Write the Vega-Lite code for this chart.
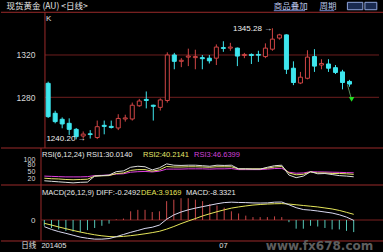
{
"$schema": "https://vega.github.io/schema/vega-lite/v6.json",
"background": "#000000",
"padding": 0,
"spacing": 0,
"bounds": "flush",
"config": {"view": {"stroke": null}, "font": "Liberation Sans", "axis": {"labelFont": "Liberation Sans"}},
"datasets": {"k": [
{"i":1,"o":1293.2,"h":1294.8,"l":1260.5,"c":1261.7,"r1":13.4,"r2":24.2,"r3":32.9,"diff":-4.6,"dea":-2.3,"macd":-4},
{"i":2,"o":1264.9,"h":1267.3,"l":1255.4,"c":1257,"r1":11.2,"r2":22,"r3":31.8,"diff":-6.5,"dea":-3.5,"macd":-5.5},
{"i":3,"o":1259.2,"h":1261,"l":1250.7,"c":1254.8,"r1":9,"r2":20.9,"r3":30.7,"diff":-8,"dea":-4.8,"macd":-6.5},
{"i":4,"o":1255.4,"h":1260.1,"l":1244.4,"c":1249.7,"r1":6.9,"r2":18.8,"r3":29.6,"diff":-9.2,"dea":-6,"macd":-7.5},
{"i":5,"o":1249.7,"h":1251,"l":1240.2,"c":1242.8,"r1":4.7,"r2":17.7,"r3":29.6,"diff":-10.5,"dea":-7.2,"macd":-8},
{"i":6,"o":1243.4,"h":1247.7,"l":1241,"c":1245.2,"r1":6.9,"r2":18.8,"r3":29.6,"diff":-11.8,"dea":-8.3,"macd":-8.5},
{"i":7,"o":1245.5,"h":1249,"l":1241,"c":1244.8,"r1":8,"r2":19.9,"r3":30.7,"diff":-12.6,"dea":-9.3,"macd":-7},
{"i":8,"o":1242,"h":1258,"l":1240.5,"c":1252.2,"r1":32.9,"r2":32.9,"r3":35,"diff":-13.2,"dea":-10.2,"macd":-5.5},
{"i":9,"o":1253.5,"h":1258,"l":1245,"c":1252.5,"r1":35,"r2":34,"r3":36.1,"diff":-13.2,"dea":-10.9,"macd":-4},
{"i":10,"o":1252.5,"h":1258,"l":1250.5,"c":1251.5,"r1":37.2,"r2":35,"r3":37.2,"diff":-12.8,"dea":-11.4,"macd":-2.5},
{"i":11,"o":1251,"h":1264,"l":1249,"c":1260,"r1":51.3,"r2":43.7,"r3":41.5,"diff":-11.5,"dea":-11.6,"macd":0.5},
{"i":12,"o":1259.5,"h":1263.5,"l":1257,"c":1260.5,"r1":54.5,"r2":45.9,"r3":42.6,"diff":-10,"dea":-11.3,"macd":1},
{"i":13,"o":1259.5,"h":1275,"l":1258,"c":1272.5,"r1":69.7,"r2":56.7,"r3":49.1,"diff":-8.5,"dea":-10.8,"macd":6},
{"i":14,"o":1272,"h":1278.5,"l":1271,"c":1276.5,"r1":74,"r2":59.9,"r3":51.3,"diff":-7.2,"dea":-10.2,"macd":7},
{"i":15,"o":1278,"h":1285.5,"l":1269.5,"c":1277,"r1":71.8,"r2":59.9,"r3":52.3,"diff":-5.8,"dea":-9.5,"macd":7},
{"i":16,"o":1272.5,"h":1273,"l":1258,"c":1271.5,"r1":58.8,"r2":53.4,"r3":50.2,"diff":-5,"dea":-8.7,"macd":5.5},
{"i":17,"o":1270.5,"h":1279,"l":1267.5,"c":1277.5,"r1":67.5,"r2":58.8,"r3":53.4,"diff":-3.5,"dea":-7.8,"macd":6},
{"i":18,"o":1277,"h":1322.5,"l":1275,"c":1320,"r1":83.8,"r2":72.9,"r3":62.1,"diff":0.5,"dea":-6.3,"macd":13},
{"i":19,"o":1320,"h":1322,"l":1306.5,"c":1314,"r1":78.3,"r2":70.8,"r3":62.1,"diff":3.5,"dea":-4.5,"macd":14},
{"i":20,"o":1314,"h":1317,"l":1308.5,"c":1315,"r1":77.3,"r2":70.8,"r3":62.1,"diff":5.5,"dea":-2.5,"macd":15},
{"i":21,"o":1318,"h":1326,"l":1309.5,"c":1319,"r1":78.3,"r2":71.8,"r3":63.2,"diff":7,"dea":-0.7,"macd":15},
{"i":22,"o":1317.5,"h":1325,"l":1306.5,"c":1318.5,"r1":78.3,"r2":71.8,"r3":63.2,"diff":8.2,"dea":1,"macd":14},
{"i":23,"o":1317.5,"h":1320,"l":1306.5,"c":1316.5,"r1":76.2,"r2":70.8,"r3":63.2,"diff":9.2,"dea":2.8,"macd":13},
{"i":24,"o":1317,"h":1320,"l":1312,"c":1314.5,"r1":74,"r2":69.7,"r3":62.1,"diff":10.2,"dea":4.3,"macd":11},
{"i":25,"o":1317,"h":1330,"l":1310.5,"c":1327.5,"r1":78.3,"r2":71.8,"r3":63.2,"diff":11.2,"dea":5.7,"macd":10},
{"i":26,"o":1327,"h":1333,"l":1323,"c":1326.2,"r1":77.3,"r2":71.8,"r3":63.2,"diff":12,"dea":7,"macd":8.5},
{"i":27,"o":1326.5,"h":1331.5,"l":1324,"c":1327.5,"r1":78.3,"r2":71.8,"r3":64.3,"diff":12.3,"dea":8.2,"macd":6},
{"i":28,"o":1326.5,"h":1327,"l":1309.5,"c":1319,"r1":63.2,"r2":63.2,"r3":59.9,"diff":12.1,"dea":9,"macd":4.5},
{"i":29,"o":1319.5,"h":1322,"l":1317,"c":1320.5,"r1":63.2,"r2":63.2,"r3":59.9,"diff":12,"dea":9.7,"macd":3},
{"i":30,"o":1320.5,"h":1321.5,"l":1311.5,"c":1319.5,"r1":62.1,"r2":63.2,"r3":59.9,"diff":11.8,"dea":10.3,"macd":2},
{"i":31,"o":1320.5,"h":1324,"l":1313.5,"c":1319.8,"r1":62.1,"r2":63.2,"r3":59.9,"diff":11.7,"dea":10.7,"macd":2},
{"i":32,"o":1318.5,"h":1331,"l":1317,"c":1326.5,"r1":69.7,"r2":66.4,"r3":62.1,"diff":11.8,"dea":11,"macd":2},
{"i":33,"o":1325.5,"h":1345.28,"l":1324,"c":1335,"r1":76.2,"r2":70.8,"r3":64.3,"diff":12.3,"dea":11.2,"macd":2.5},
{"i":34,"o":1336,"h":1340,"l":1334.5,"c":1339,"r1":78.3,"r2":72.9,"r3":65.3,"diff":12.4,"dea":11.3,"macd":2},
{"i":35,"o":1339,"h":1339.5,"l":1302,"c":1306.5,"r1":37.2,"r2":45.9,"r3":49.1,"diff":10.5,"dea":11,"macd":-1.5},
{"i":36,"o":1307.5,"h":1314,"l":1291.5,"c":1294,"r1":26.4,"r2":38.3,"r3":44.8,"diff":8.5,"dea":10.5,"macd":-6},
{"i":37,"o":1293.5,"h":1304,"l":1292.5,"c":1299,"r1":32.9,"r2":40.4,"r3":45.9,"diff":7.2,"dea":10,"macd":-6},
{"i":38,"o":1298,"h":1324.5,"l":1297,"c":1318,"r1":51.3,"r2":50.2,"r3":51.3,"diff":6.8,"dea":9.5,"macd":-4},
{"i":39,"o":1318.5,"h":1325.5,"l":1304,"c":1309.5,"r1":42.6,"r2":45.9,"r3":50.5,"diff":6.2,"dea":9,"macd":-4.5},
{"i":40,"o":1310.5,"h":1316,"l":1306.5,"c":1312,"r1":43.7,"r2":45.9,"r3":50,"diff":5.5,"dea":8.3,"macd":-5.5},
{"i":41,"o":1311.5,"h":1316,"l":1304,"c":1307.5,"r1":39.4,"r2":43.7,"r3":49.2,"diff":4.8,"dea":7.6,"macd":-6.5},
{"i":42,"o":1308,"h":1310.5,"l":1302,"c":1303.5,"r1":35,"r2":44,"r3":48.5,"diff":3.6,"dea":6.6,"macd":-6.5},
{"i":43,"o":1304,"h":1306,"l":1287.5,"c":1294,"r1":33,"r2":42.5,"r3":47.5,"diff":2,"dea":5.3,"macd":-7.5},
{"i":44,"o":1295,"h":1296.5,"l":1290,"c":1292.5,"r1":30.014,"r2":40.2141,"r3":46.6399,"diff":-0.2492,"dea":3.9169,"macd":-8.3321}
]},
"vconcat": [
{
 "width": 383, "height": 148,
 "data": {"name": "k"},
 "layer": [
  {"data": {"values": [{}]}, "mark": {"type": "rule", "color": "#6e1e1e", "strokeWidth": 1},
   "encoding": {"x": {"datum": 0.541, "type": "quantitative", "scale": {"domain": [-5.018, 48.21], "nice": false, "zero": false}, "axis": null},
     "x2": {"datum": 48.21}, "y": {"datum": 1320, "type": "quantitative", "scale": {"domain": [1232.06, 1372], "nice": false, "zero": false},
     "axis": {"values": [1280, 1320], "format": "d", "offset": -40, "labelPadding": 6, "ticks": false, "domain": false, "grid": false, "labelColor": "#d8d8d8", "labelFontSize": 8.5, "title": null}}}},
  {"data": {"values": [{}]}, "mark": {"type": "rule", "color": "#6e1e1e", "strokeWidth": 1},
   "encoding": {"x": {"datum": 0.541}, "x2": {"datum": 48.21}, "y": {"datum": 1280}}},
  {"data": {"values": [{}]}, "mark": {"type": "rule", "color": "#9a2a2a", "strokeWidth": 1},
   "encoding": {"y": {"datum": 1360.4}}},
  {"data": {"values": [{}]}, "mark": {"type": "rule", "color": "#9a2a2a", "strokeWidth": 1},
   "encoding": {"x": {"datum": 0.541}, "y": {"datum": 1360.4}, "y2": {"datum": 1232.06}}},
  {"mark": {"type": "rule", "strokeWidth": 1},
   "encoding": {"x": {"field": "i", "type": "quantitative"}, "y": {"field": "l", "type": "quantitative"}, "y2": {"field": "h"},
     "color": {"condition": {"test": "datum.c >= datum.o", "value": "#d04545"}, "value": "#3ee6ee"}}},
  {"mark": {"type": "bar", "size": 4, "strokeWidth": 1},
   "encoding": {"x": {"field": "i", "type": "quantitative"}, "y": {"field": "o", "type": "quantitative"}, "y2": {"field": "c"},
     "fill": {"condition": {"test": "datum.c >= datum.o", "value": "#000000"}, "value": "#3ee6ee"},
     "stroke": {"condition": {"test": "datum.c >= datum.o", "value": "#d04545"}, "value": "#3ee6ee"}}},
  {"data": {"values": [{}]}, "mark": {"type": "rule", "color": "#5a8a5a", "strokeWidth": 1},
   "encoding": {"x": {"datum": 43.72}, "x2": {"datum": 44.25}, "y": {"datum": 1291.6}, "y2": {"datum": 1279}}},
  {"data": {"values": [{}]}, "mark": {"type": "point", "shape": "triangle-down", "filled": true, "color": "#22e022", "size": 30, "opacity": 1},
   "encoding": {"x": {"datum": 44.3}, "y": {"datum": 1278}}},
  {"data": {"values": [{}]}, "mark": {"type": "text", "text": "现货黄金 (AU) <日线>", "align": "left", "baseline": "middle", "font": "Noto Sans CJK SC", "fontSize": 8.5, "color": "#e8e8e8"},
   "encoding": {"x": {"datum": -4.95}, "y": {"datum": 1365.9}}},
  {"data": {"values": [{}]}, "mark": {"type": "text", "text": "商品叠加", "align": "left", "baseline": "middle", "font": "Noto Sans CJK SC", "fontSize": 8.5, "color": "#b8c4e8"},
   "encoding": {"x": {"datum": 33.2}, "y": {"datum": 1365.9}}},
  {"data": {"values": [{}]}, "mark": {"type": "text", "text": "周期", "align": "left", "baseline": "middle", "font": "Noto Sans CJK SC", "fontSize": 8.5, "color": "#b8c4e8"},
   "encoding": {"x": {"datum": 39.73}, "y": {"datum": 1365.9}}},
  {"data": {"values": [{}]}, "mark": {"type": "rule", "color": "#6f86c8", "strokeWidth": 1},
   "encoding": {"x": {"datum": 33.2}, "x2": {"datum": 37.65}, "y": {"datum": 1361.9}}},
  {"data": {"values": [{}]}, "mark": {"type": "rule", "color": "#6f86c8", "strokeWidth": 1},
   "encoding": {"x": {"datum": 39.73}, "x2": {"datum": 41.82}, "y": {"datum": 1361.9}}},
  {"data": {"values": [{}]}, "mark": {"type": "rect", "fill": "#1a2a50", "stroke": "#8fa4dc", "strokeWidth": 1},
   "encoding": {"x": {"datum": 43.7}, "x2": {"datum": 45.9}, "y": {"datum": 1369.8}, "y2": {"datum": 1362.8}}},
  {"data": {"values": [{}]}, "mark": {"type": "rect", "fill": "#1a2a50", "stroke": "#8fa4dc", "strokeWidth": 1},
   "encoding": {"x": {"datum": 46.2}, "x2": {"datum": 47.9}, "y": {"datum": 1369.8}, "y2": {"datum": 1362.8}}},
  {"data": {"values": [{}]}, "mark": {"type": "text", "text": "K", "align": "left", "baseline": "middle", "fontSize": 8, "color": "#e0e0e0"},
   "encoding": {"x": {"datum": 0.68}, "y": {"datum": 1353.6}}},
  {"data": {"values": [{}]}, "mark": {"type": "text", "text": "1345.28 →", "align": "left", "baseline": "middle", "fontSize": 8, "color": "#f0f0f0"},
   "encoding": {"x": {"datum": 27.37}, "y": {"datum": 1344.3}}},
  {"data": {"values": [{}]}, "mark": {"type": "text", "text": "1240.20 →", "align": "left", "baseline": "middle", "fontSize": 8, "color": "#f0f0f0"},
   "encoding": {"x": {"datum": 0.75}, "y": {"datum": 1240.1}}}
 ]
},
{
 "width": 383, "height": 37,
 "data": {"name": "k"},
 "layer": [
  {"data": {"values": [{}]}, "mark": {"type": "rule", "color": "#9a2a2a", "strokeWidth": 1},
   "encoding": {"y": {"datum": 150, "type": "quantitative", "scale": {"domain": [-4.17, 150], "nice": false, "zero": false}, "axis": null}}},
  {"data": {"values": [{}]}, "mark": {"type": "rule", "color": "#9a2a2a", "strokeWidth": 1},
   "encoding": {"x": {"datum": 0.541, "type": "quantitative", "scale": {"domain": [-5.018, 48.21], "nice": false, "zero": false}, "axis": null}}},
  {"data": {"values": [{"v": 100}, {"v": 80}, {"v": 50}, {"v": 20}]},
   "mark": {"type": "text", "align": "right", "baseline": "middle", "fontSize": 7, "color": "#d8d8d8"},
   "encoding": {"x": {"datum": -0.25}, "y": {"field": "v", "type": "quantitative"}, "text": {"field": "v", "type": "quantitative"}}},
  {"mark": {"type": "line", "strokeWidth": 1, "color": "#e040e0"},
   "encoding": {"x": {"field": "i", "type": "quantitative"}, "y": {"field": "r3", "type": "quantitative"}}},
  {"mark": {"type": "line", "strokeWidth": 1, "color": "#e6e66a"},
   "encoding": {"x": {"field": "i", "type": "quantitative"}, "y": {"field": "r2", "type": "quantitative"}}},
  {"mark": {"type": "line", "strokeWidth": 1, "color": "#dcdcdc"},
   "encoding": {"x": {"field": "i", "type": "quantitative"}, "y": {"field": "r1", "type": "quantitative"}}},
  {"data": {"values": [{}]}, "mark": {"type": "text", "text": "RSI(6,12,24) RSI1:30.0140", "align": "left", "baseline": "middle", "fontSize": 7.5, "color": "#e8e8e8"},
   "encoding": {"x": {"datum": 0.68}, "y": {"datum": 120.8}}},
  {"data": {"values": [{}]}, "mark": {"type": "text", "text": "RSI2:40.2141", "align": "left", "baseline": "middle", "fontSize": 7.5, "color": "#e6e66a"},
   "encoding": {"x": {"datum": 14.72}, "y": {"datum": 120.8}}},
  {"data": {"values": [{}]}, "mark": {"type": "text", "text": "RSI3:46.6399", "align": "left", "baseline": "middle", "fontSize": 7.5, "color": "#d040d8"},
   "encoding": {"x": {"datum": 21.81}, "y": {"datum": 120.8}}}
 ]
},
{
 "width": 383, "height": 67,
 "data": {"name": "k"},
 "layer": [
  {"data": {"values": [{}]}, "mark": {"type": "rule", "color": "#9a2a2a", "strokeWidth": 1},
   "encoding": {"y": {"datum": 24.14, "type": "quantitative", "scale": {"domain": [-22.07, 24.14], "nice": false, "zero": false},
     "axis": {"values": [0], "format": "d", "offset": -40, "labelPadding": 6, "ticks": false, "domain": false, "grid": false, "labelColor": "#d8d8d8", "labelFontSize": 8, "title": null}}}},
  {"data": {"values": [{}]}, "mark": {"type": "rule", "color": "#9a2a2a", "strokeWidth": 1},
   "encoding": {"y": {"datum": -14.48}}},
  {"data": {"values": [{}]}, "mark": {"type": "rule", "color": "#9a2a2a", "strokeWidth": 1},
   "encoding": {"x": {"datum": 0.541, "type": "quantitative", "scale": {"domain": [-5.018, 48.21], "nice": false, "zero": false}, "axis": null}, "y": {"datum": 24.14}, "y2": {"datum": -14.48}}},
  {"data": {"values": [{}]}, "mark": {"type": "rule", "color": "#7a2020", "strokeWidth": 1},
   "encoding": {"x": {"datum": 0.541}, "x2": {"datum": 48.21}, "y": {"datum": 0}}},
  {"mark": {"type": "rule", "strokeWidth": 1},
   "encoding": {"x": {"field": "i", "type": "quantitative"}, "y": {"field": "macd", "type": "quantitative"}, "y2": {"datum": 0},
     "color": {"condition": {"test": "datum.macd >= 0", "value": "#c84848"}, "value": "#56c8b8"}}},
  {"mark": {"type": "line", "strokeWidth": 1, "color": "#e6e65a"},
   "encoding": {"x": {"field": "i", "type": "quantitative"}, "y": {"field": "dea", "type": "quantitative"}}},
  {"mark": {"type": "line", "strokeWidth": 1, "color": "#d8d8f0"},
   "encoding": {"x": {"field": "i", "type": "quantitative"}, "y": {"field": "diff", "type": "quantitative"}}},
  {"data": {"values": [{}]}, "mark": {"type": "text", "text": "MACD(26,12,9) DIFF:-0.2492", "align": "left", "baseline": "middle", "fontSize": 7.5, "color": "#e8e8e8"},
   "encoding": {"x": {"datum": 0.68}, "y": {"datum": 18.4}}},
  {"data": {"values": [{}]}, "mark": {"type": "text", "text": "DEA:3.9169", "align": "left", "baseline": "middle", "fontSize": 7.5, "color": "#e6e65a"},
   "encoding": {"x": {"datum": 14.44}, "y": {"datum": 18.4}}},
  {"data": {"values": [{}]}, "mark": {"type": "text", "text": "MACD:-8.3321", "align": "left", "baseline": "middle", "fontSize": 7.5, "color": "#e8e8e8"},
   "encoding": {"x": {"datum": 20.69}, "y": {"datum": 18.4}}},
  {"data": {"values": [{}]}, "mark": {"type": "text", "text": "www.fx678.com", "align": "center", "baseline": "middle", "font": "DejaVu Sans", "fontSize": 12, "fontWeight": "bold", "color": "#5e5e5e"},
   "encoding": {"x": {"datum": 39.25}, "y": {"datum": -17.8}}},
  {"data": {"values": [{}]}, "mark": {"type": "text", "text": "日线", "align": "left", "baseline": "middle", "font": "Noto Sans CJK SC", "fontSize": 7.5, "color": "#e0e0e0"},
   "encoding": {"x": {"datum": -2.2}, "y": {"datum": -17.8}}},
  {"data": {"values": [{}]}, "mark": {"type": "text", "text": "201405", "align": "left", "baseline": "middle", "fontSize": 7.5, "color": "#e0e0e0"},
   "encoding": {"x": {"datum": 0.6}, "y": {"datum": -17.8}}},
  {"data": {"values": [{}]}, "mark": {"type": "text", "text": "07", "align": "left", "baseline": "middle", "fontSize": 7.5, "color": "#e0e0e0"},
   "encoding": {"x": {"datum": 25.32}, "y": {"datum": -17.8}}}
 ]
}
]
}
